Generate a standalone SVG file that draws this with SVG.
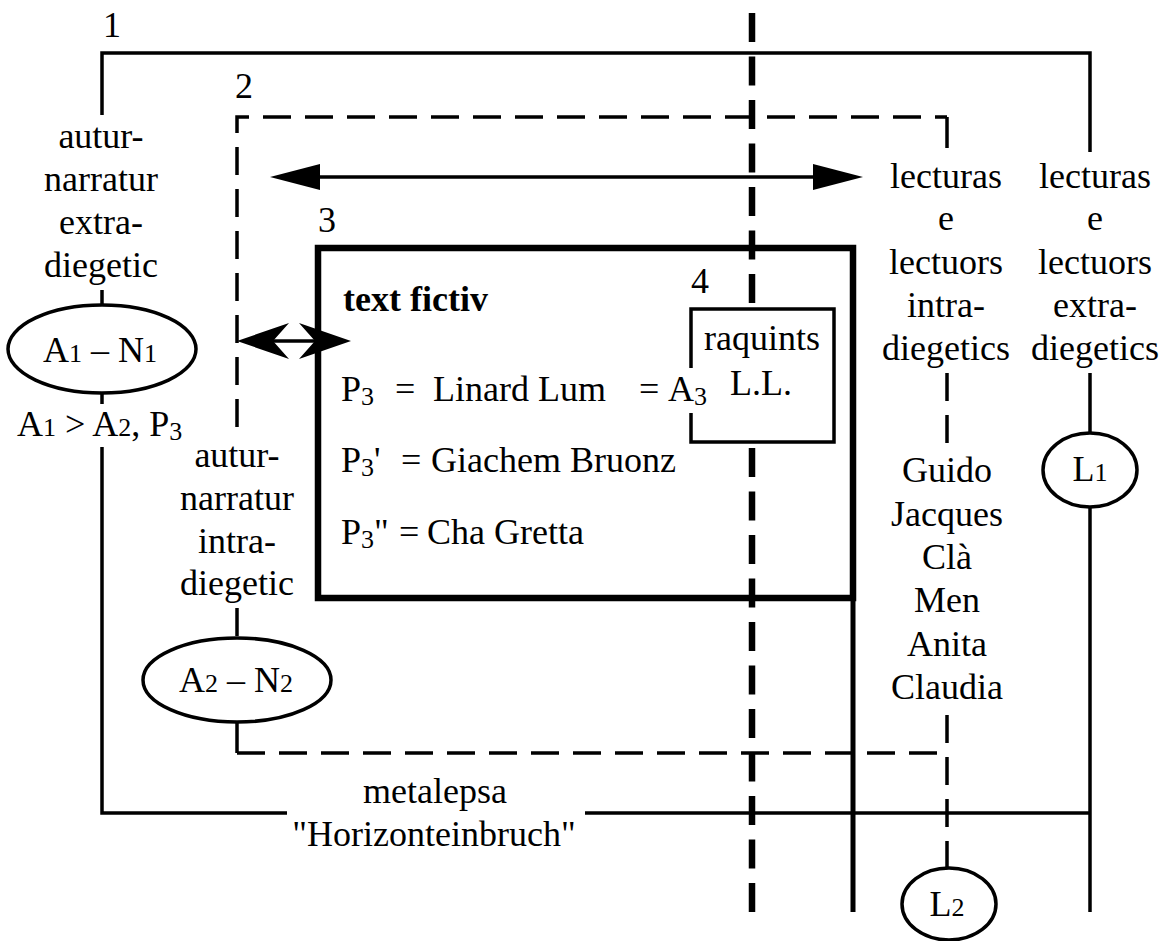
<svg xmlns="http://www.w3.org/2000/svg" width="1162" height="941" viewBox="0 0 1162 941">
<style>
.t{font-family:"Liberation Serif","Times New Roman",serif;font-size:36px;fill:#000}
.c{text-anchor:middle}
.b{font-weight:bold}
.s{font-size:26px}
.ln{stroke:#000;stroke-width:3.5;fill:none}
.dl{stroke:#000;stroke-width:3.5;fill:none;stroke-dasharray:28 14}
.hd{stroke:#000;stroke-width:6.5;fill:none;stroke-dasharray:29 14.5}
.node{fill:#fff;stroke:#000;stroke-width:3.5}
.head{fill:#000;stroke:none}
</style>
<rect width="1162" height="941" fill="#fff"/>

<g id="connectors">
  <!-- level 1 solid frame -->
  <polyline class="ln" points="102,115 102,53 1090,53 1090,152"/>
  <line class="ln" x1="102" y1="290" x2="102" y2="305"/>
  <line class="ln" x1="102" y1="393" x2="102" y2="404"/>
  <polyline class="ln" points="102,447 102,813 287,813"/>
  <line class="ln" x1="585" y1="813" x2="1090" y2="813"/>
  <line class="ln" x1="1090" y1="373" x2="1090" y2="433"/>
  <line class="ln" x1="1090" y1="507" x2="1090" y2="912"/>
  <!-- level 2 dashed frame -->
  <polyline class="dl" points="237,427 237,117 947,117"/>
  <line class="ln" x1="947" y1="117" x2="947" y2="148"/>
  <line class="dl" x1="947" y1="373" x2="947" y2="450"/>
  <line class="dl" x1="237" y1="608" x2="237" y2="638"/>
  <line class="ln" x1="237" y1="722" x2="237" y2="753"/>
  <line class="dl" x1="237" y1="753" x2="947" y2="753"/>
  <line class="dl" x1="947" y1="715" x2="947" y2="867"/>
  <!-- big double arrow -->
  <line class="ln" x1="300" y1="177" x2="840" y2="177"/>
  <polygon class="head" points="270,177 320,164 320,190"/>
  <polygon class="head" points="863,177 813,164 813,190"/>
  <!-- small double arrow -->
  <line class="ln" x1="250" y1="341" x2="338" y2="341"/>
  <polygon class="head" points="237,341 289,323 273,341 289,359"/>
  <polygon class="head" points="351,341 299,323 315,341 299,359"/>
</g>

<g id="box3">
  <rect x="318" y="248" width="535" height="350" fill="none" stroke="#000" stroke-width="6.5"/>
  <line x1="853" y1="598" x2="853" y2="912" stroke="#000" stroke-width="5"/>
  <text class="t" x="318" y="232">3</text>
  <text class="t b" x="343" y="311">text fictiv</text>
  <text class="t" y="401"><tspan x="341">P</tspan><tspan class="s" dy="4">3</tspan><tspan x="395" dy="-4">=</tspan><tspan x="433">Linard Lum</tspan><tspan x="639">=</tspan><tspan x="668">A</tspan><tspan class="s" dy="4">3</tspan></text>
  <text class="t" y="472"><tspan x="341">P</tspan><tspan class="s" dy="4">3</tspan><tspan dy="-4">'</tspan><tspan x="401">=</tspan><tspan x="431">Giachem Bruonz</tspan></text>
  <text class="t" y="544"><tspan x="341">P</tspan><tspan class="s" dy="4">3</tspan><tspan dy="-4">"</tspan><tspan x="399">=</tspan><tspan x="427">Cha Gretta</tspan></text>
</g>

<g id="boundary">
  <line class="hd" x1="752" y1="13" x2="752" y2="309"/>
  <line class="hd" x1="752" y1="442" x2="752" y2="912" style="stroke-dashoffset:37.5"/>
</g>

<g id="box4">
  <polyline class="ln" points="691,368 691,309 834,309 834,442 691,442 691,413"/>
  <text class="t" x="691" y="293">4</text>
  <text class="t c" x="762" y="350">raquints</text>
  <text class="t c" x="761" y="395">L.L.</text>
</g>

<g id="label1">
  <text class="t" x="103" y="37">1</text>
</g>
<g id="label2">
  <text class="t" x="235" y="98">2</text>
</g>

<g id="author-extra">
  <text class="t c" x="101" y="148">autur-</text>
  <text class="t c" x="101" y="191">narratur</text>
  <text class="t c" x="101" y="234">extra-</text>
  <text class="t c" x="101" y="277">diegetic</text>
</g>

<g id="A1N1">
  <ellipse class="node" cx="102" cy="349" rx="94" ry="44"/>
  <text class="t c" x="100" y="362">A<tspan class="s">1</tspan> – N<tspan class="s">1</tspan></text>
</g>

<g id="A1-relation">
  <text class="t" y="436"><tspan x="17">A</tspan><tspan class="s">1</tspan><tspan> &gt; A</tspan><tspan class="s">2</tspan><tspan>, P</tspan><tspan class="s" dy="4">3</tspan></text>
</g>

<g id="author-intra">
  <text class="t c" x="237" y="467">autur-</text>
  <text class="t c" x="237" y="510">narratur</text>
  <text class="t c" x="237" y="553">intra-</text>
  <text class="t c" x="237" y="595">diegetic</text>
</g>

<g id="A2N2">
  <ellipse class="node" cx="237" cy="680" rx="94" ry="42"/>
  <text class="t c" x="236" y="692">A<tspan class="s">2</tspan> – N<tspan class="s">2</tspan></text>
</g>

<g id="readers-intra">
  <text class="t c" x="946" y="188">lecturas</text>
  <text class="t c" x="946" y="230">e</text>
  <text class="t c" x="946" y="274">lectuors</text>
  <text class="t c" x="946" y="317">intra-</text>
  <text class="t c" x="946" y="360">diegetics</text>
</g>

<g id="readers-extra">
  <text class="t c" x="1095" y="188">lecturas</text>
  <text class="t c" x="1095" y="230">e</text>
  <text class="t c" x="1095" y="274">lectuors</text>
  <text class="t c" x="1095" y="317">extra-</text>
  <text class="t c" x="1095" y="360">diegetics</text>
</g>

<g id="names">
  <text class="t c" x="947" y="482">Guido</text>
  <text class="t c" x="947" y="526">Jacques</text>
  <text class="t c" x="947" y="569">Clà</text>
  <text class="t c" x="947" y="612">Men</text>
  <text class="t c" x="947" y="656">Anita</text>
  <text class="t c" x="947" y="699">Claudia</text>
</g>

<g id="L1">
  <ellipse class="node" cx="1090" cy="470" rx="47" ry="37"/>
  <text class="t c" x="1090" y="481">L<tspan class="s">1</tspan></text>
</g>

<g id="L2">
  <ellipse class="node" cx="949" cy="904" rx="47" ry="36"/>
  <text class="t c" x="947" y="916">L<tspan class="s">2</tspan></text>
</g>

<g id="metalepsa">
  <text class="t c" x="435" y="803">metalepsa</text>
  <text class="t c" x="434" y="846">"Horizonteinbruch"</text>
</g>
</svg>
